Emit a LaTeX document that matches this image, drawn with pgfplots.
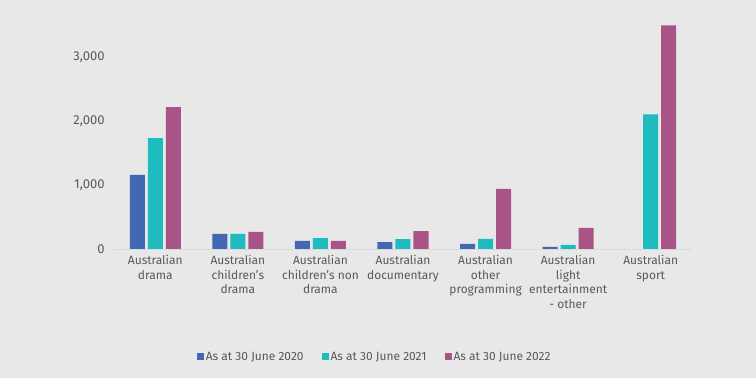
\documentclass[border=0pt]{standalone}
\usepackage{pgfplots}
\pgfplotsset{compat=1.18}
\usepackage{fontspec}
\setmainfont{Fira Sans}
\definecolor{bg}{HTML}{E8E8E8}
\definecolor{c1}{HTML}{4368B3}
\definecolor{c2}{HTML}{1EBCBF}
\definecolor{c3}{HTML}{A85486}
\definecolor{txt}{HTML}{595959}
\begin{document}
\begin{tikzpicture}
\fill[bg] (0,0) rectangle (756bp,378bp);
\begin{axis}[
  at={(114bp,129bp)}, anchor=south west,
  width=578bp, height=224bp, scale only axis,
  xmin=-0.5, xmax=6.5, ymin=0, ymax=3500,
  ybar=3bp, bar width=15bp,
  axis x line*=bottom, axis y line*=left,
  y axis line style={draw=none},
  x axis line style={draw=black!20, dash pattern=on 1bp off 1bp},
  major tick length=0pt, tick style={draw=none},
  ytick={0,1000,2000,3000},
  xtick={0,1,2,3,4,5,6},
  xticklabels={{Australian\\drama},{Australian\\children’s\\drama},{Australian\\children’s non\\drama},{Australian\\documentary},{Australian\\other\\programming},{Australian\\light\\entertainment\\- other},{Australian\\sport}},
  /pgf/number format/.cd, 1000 sep={,}, assume math mode=true,
  /pgfplots/.cd,
  yticklabel style={font=\fontsize{13}{15}\selectfont, text=txt, xshift=-6bp},
  xticklabel style={align=center, font=\fontsize{12}{14.5}\selectfont, text=txt, yshift=-3bp},
  legend style={at={(0.451,-0.482)}, anchor=center, draw=none, fill=none,
    font=\fontsize{12}{14}\selectfont, text=txt,
    /tikz/every even column/.append style={column sep=16bp}},
  legend columns=-1,
  legend image code/.code={\fill[#1] (0bp,-3.5bp) rectangle (7bp,3.5bp);},
]
\addplot[fill=c1, draw=none] coordinates {(0,1157) (1,238) (2,125) (3,109) (4,82) (5,35)};
\addplot[fill=c2, draw=none] coordinates {(0,1734) (1,238) (2,171) (3,156) (4,160) (5,65) (6,2103)};
\addplot[fill=c3, draw=none] coordinates {(0,2216) (1,268) (2,125) (3,280) (4,940) (5,330) (6,3494)};
\legend{As at 30 June 2020, As at 30 June 2021, As at 30 June 2022}
\end{axis}
\end{tikzpicture}
\end{document}
